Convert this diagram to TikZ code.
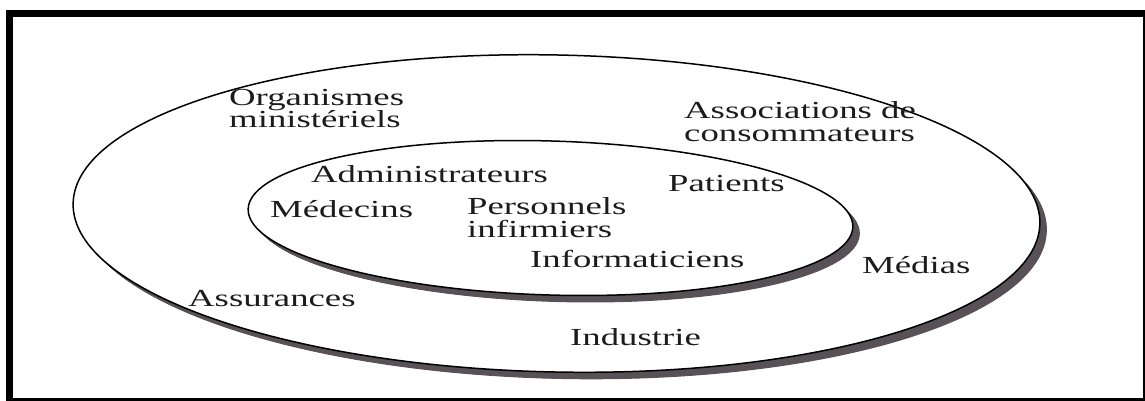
\documentclass[tikz,border=0pt]{standalone}
\usepackage{fontspec}
\newfontfamily\lblfont[FakeStretch=1.5]{Liberation Serif}
\definecolor{shadowc}{RGB}{88,82,86}
\definecolor{txtc}{RGB}{28,28,28}
\begin{document}
\begin{tikzpicture}[x=1pt,y=-1pt,
  lbl/.style={font=\lblfont\fontsize{24.5}{22.5}\selectfont, inner sep=0pt, anchor=base west, align=left, text=txtc},
  ring/.style={draw=black, line width=1.5pt}]
\useasboundingbox (0,0) rectangle (1145,401);
% frame
\fill[white] (0,0) rectangle (1145,401);
\fill[black] (6,10) rectangle (1145,401);
\fill[white] (13,17) rectangle (1142.5,397.5);
% outer ring
\foreach \s in {0.5,1,...,7}
  \fill[shadowc, rotate around={-1.2:(556.5+\s,213.5+\s)}] (556.5+\s,213.5+\s) ellipse [x radius=483.5, y radius=158.5];
\fill[white, rotate around={-1.2:(556.5,213.5)}] (556.5,213.5) ellipse [x radius=483.5, y radius=158.5];
\draw[ring, rotate around={-1.2:(556.5,213.5)}] (556.5,213.5) ellipse [x radius=483.5, y radius=158.5];
% inner ring
\foreach \s in {0.5,1,...,7}
  \fill[shadowc, rotate around={-1.7:(550.5+\s,218+\s)}] (550.5+\s,218+\s) ellipse [x radius=302.5, y radius=77];
\fill[white, rotate around={-1.7:(550.5,218)}] (550.5,218) ellipse [x radius=302.5, y radius=77];
\draw[ring, rotate around={-1.7:(550.5,218)}] (550.5,218) ellipse [x radius=302.5, y radius=77];
% labels (base anchor = baseline of last line)
\node[lbl] (org) at (229,128) {Organismes\\ministériels};
\node[lbl] (assoc) at (684,141) {Associations de\\consommateurs};
\node[lbl] (admin) at (311,182) {Administrateurs};
\node[lbl] (pat) at (668,191) {Patients};
\node[lbl] (med) at (270,217) {Médecins};
\node[lbl] (pers) at (467,237) {Personnels\\infirmiers};
\node[lbl] (info) at (530,267) {Informaticiens};
\node[lbl] (medias) at (862,273) {Médias};
\node[lbl] (assur) at (188,306) {Assurances};
\node[lbl] (ind) at (570,345) {Industrie};
\end{tikzpicture}
\end{document}
